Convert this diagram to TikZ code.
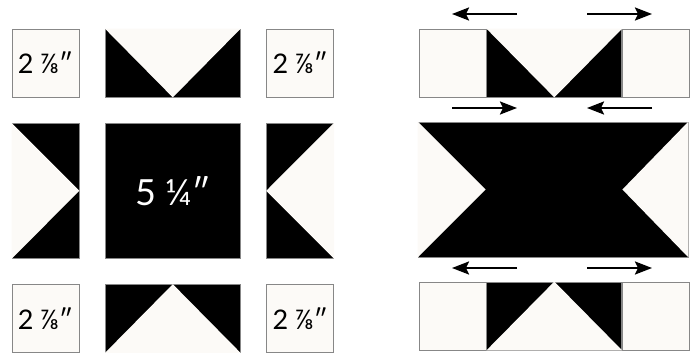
\documentclass[tikz,border=0pt]{standalone}
\usepackage{fontspec}
\setmainfont{Lato}
\usetikzlibrary{
    positioning,
    arrows.meta
}
\definecolor{Muslin}{RGB}{252,250,247}
\definecolor{SeamGray}{RGB}{135,135,135}

\begin{document}
\begin{tikzpicture}[
    x=1pt, y=-1pt,
    node distance=25.5pt,
    unit/.style={rectangle, draw=SeamGray, line width=0.8pt, inner sep=0pt, minimum width=67pt, minimum height=68pt},
    light/.style={unit, fill=Muslin, font=\fontsize{27}{30}\selectfont},
    dark/.style={unit, fill=black},
    goose/.style={dark, minimum width=135pt},
    tall/.style={dark, minimum height=135pt},
    press/.style={line width=2.2pt, -{Stealth[length=17pt,width=13pt,inset=3pt]}},
]
\useasboundingbox (0,0) rectangle (696,353);

% cut pieces
\node[light] (cornerTL) at (45.5,63) {2 ⅞″};
\node[goose, right=of cornerTL] (gooseTop) {};
\node[light, right=of gooseTop] (cornerTR) {2 ⅞″};
\node[tall, below=of cornerTL] (gooseLeft) {};
\node[tall, minimum width=135pt, below=of gooseTop, text=white, font=\fontsize{36}{40}\selectfont] (center) {5 ¼″};
\node[tall, below=of cornerTR] (gooseRight) {};
\node[light, below=of gooseLeft] (cornerBL) {2 ⅞″};
\node[goose, below=of center] (gooseBot) {};
\node[light, below=of gooseRight] (cornerBR) {2 ⅞″};

\fill[Muslin] (gooseTop.north west) -- (gooseTop.north east) -- (gooseTop.south) -- cycle;
\fill[Muslin] (gooseBot.south west) -- (gooseBot.south east) -- (gooseBot.north) -- cycle;
\fill[Muslin] (gooseLeft.north west) -- (gooseLeft.south west) -- (gooseLeft.east) -- cycle;
\fill[Muslin] (gooseRight.north east) -- (gooseRight.south east) -- (gooseRight.west) -- cycle;

% sewn rows
\node[light] (rowTopL) at (452.5,63) {};
\node[goose, right=0pt of rowTopL] (rowTopG) {};
\node[light, right=0pt of rowTopG] (rowTopR) {};
\node[tall, minimum width=270pt] (rowMid) at (553,189.5) {};
\node[light] (rowBotL) at (452.5,316) {};
\node[goose, right=0pt of rowBotL] (rowBotG) {};
\node[light, right=0pt of rowBotG] (rowBotR) {};

\fill[Muslin] (rowTopG.north west) -- (rowTopG.north east) -- (rowTopG.south) -- cycle;
\fill[Muslin] (rowBotG.south west) -- (rowBotG.south east) -- (rowBotG.north) -- cycle;
\fill[Muslin] (rowMid.north west) -- (rowMid.south west) -- ([xshift=68pt]rowMid.west) -- cycle;
\fill[Muslin] (rowMid.north east) -- (rowMid.south east) -- ([xshift=-66pt]rowMid.east) -- cycle;

% pressing directions
\coordinate (p1a) at (517,14);  \coordinate (p1b) at (452,14);
\coordinate (p2a) at (587,14);  \coordinate (p2b) at (652,14);
\coordinate (p3a) at (452,108); \coordinate (p3b) at (517,108);
\coordinate (p4a) at (652,108); \coordinate (p4b) at (587,108);
\coordinate (p5a) at (517,268); \coordinate (p5b) at (452,268);
\coordinate (p6a) at (587,268); \coordinate (p6b) at (652,268);
\foreach \i in {1,...,6}
    \draw[press] (p\i a) -- (p\i b);
\end{tikzpicture}
\end{document}
